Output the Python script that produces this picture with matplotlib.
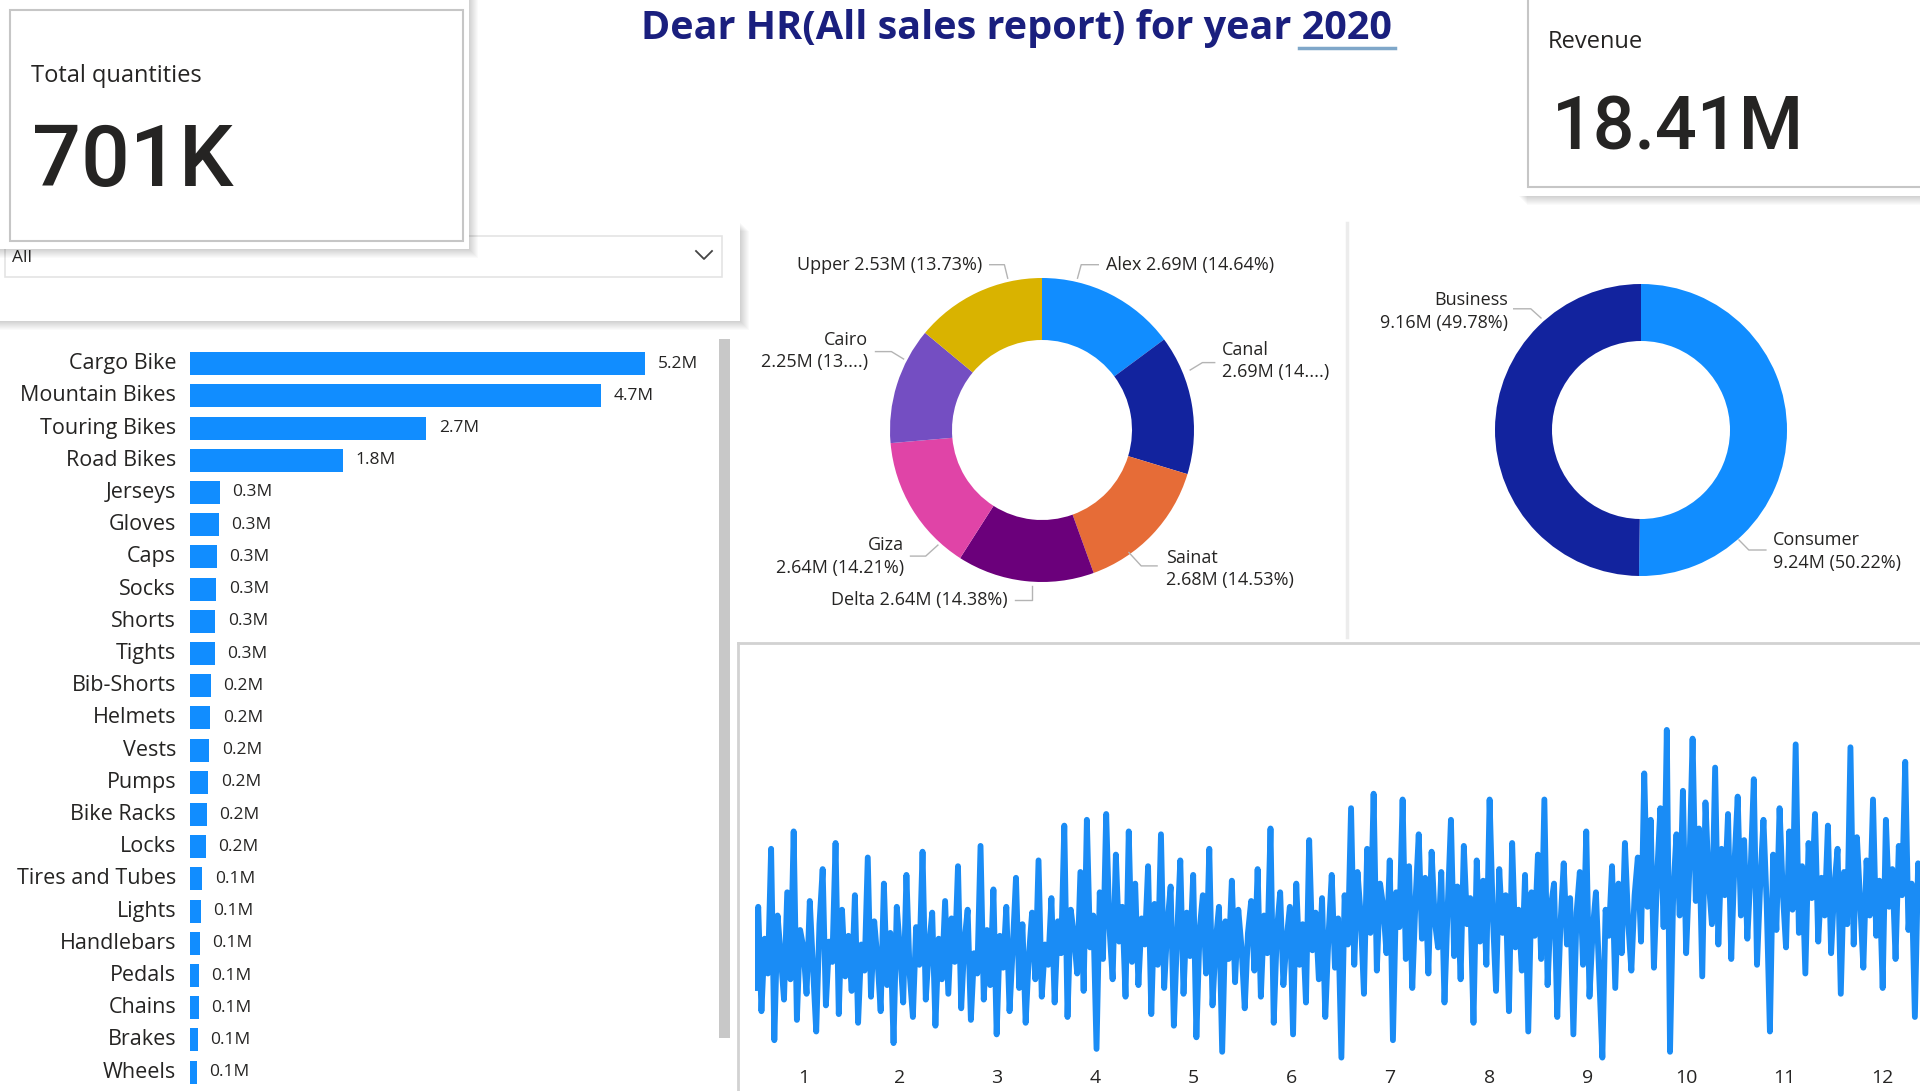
import matplotlib
matplotlib.use("Agg")
import matplotlib.pyplot as plt
import matplotlib.transforms as mtransforms
from matplotlib.patches import Rectangle
import numpy as np

# ---- data ----
title = "Dear HR(All sales report) for year 2020"
total_qty = "701K"
revenue = "18.41M"

products = ["Cargo Bike", "Mountain Bikes", "Touring Bikes", "Road Bikes", "Jerseys", "Gloves",
            "Caps", "Socks", "Shorts", "Tights", "Bib-Shorts", "Helmets", "Vests", "Pumps",
            "Bike Racks", "Locks", "Tires and Tubes", "Lights", "Handlebars", "Pedals",
            "Chains", "Brakes", "Wheels"]
product_sales = [5.2, 4.7, 2.7, 1.75, 0.34, 0.33, 0.31, 0.30, 0.29, 0.28, 0.24, 0.23, 0.22,
                 0.21, 0.19, 0.18, 0.14, 0.12, 0.11, 0.10, 0.10, 0.09, 0.08]

regions = ["Alex", "Canal", "Sainat", "Delta", "Giza", "Cairo", "Upper"]
region_sales = [2.69, 2.69, 2.68, 2.64, 2.64, 2.25, 2.53]
region_pct = ["14.64%", "14....", "14.53%", "14.38%", "14.21%", "13....", "13.73%"]
region_colors = ["#118DFF", "#12239E", "#E66C37", "#6B007B", "#E044A7", "#744EC2", "#D9B300"]

segments = ["Consumer", "Business"]
segment_sales = [9.24, 9.16]
segment_pct = ["50.22%", "49.78%"]
segment_colors = ["#118DFF", "#12239E"]

month_days = [31, 29, 31, 30, 31, 30, 31, 31, 30, 31, 30, 31]
daily_sales = (
    [30, 58, 22, 47, 35, 78, 12, 55, 41, 26, 63, 33, 84, 19, 50, 44, 28, 60, 37, 15,
     52, 71, 24, 46, 39, 80, 21, 57, 34, 48, 29] +
    [62, 18, 45, 36, 75, 27, 53, 40, 22, 66, 31, 49, 11, 58, 43, 25, 69, 35, 20, 51,
     38, 77, 26, 44, 56, 17, 47, 33, 60] +
    [28, 54, 39, 72, 23, 46, 57, 19, 42, 35, 79, 26, 50, 31, 64, 14, 48, 37, 58, 22,
     44, 68, 30, 52, 18, 41, 56, 33, 74, 27, 45] +
    [38, 61, 25, 53, 42, 86, 20, 57, 48, 35, 70, 29, 88, 44, 55, 9, 63, 40, 90, 51,
     33, 76, 46, 58, 27, 84, 39, 66, 31, 54] +
    [45, 72, 21, 59, 38, 83, 30, 52, 65, 17, 48, 74, 28, 56, 41, 69, 13, 50, 62, 35,
     78, 24, 46, 58, 8, 53, 40, 67, 32, 57, 44] +
    [23, 49, 60, 36, 71, 27, 55, 42, 85, 18, 50, 63, 31, 47, 58, 14, 66, 38, 52, 25,
     81, 43, 56, 33, 61, 20, 48, 69, 37, 54] +
    [6, 62, 45, 92, 38, 70, 55, 28, 78, 49, 97, 36, 66, 58, 42, 74, 12, 63, 51, 95,
     40, 72, 30, 60, 83, 47, 68, 35, 77, 53, 44] +
    [70, 25, 58, 88, 41, 65, 33, 79, 52, 61, 18, 74, 46, 67, 38, 95, 55, 29, 71, 49,
     62, 22, 80, 44, 57, 36, 69, 15, 63, 48, 76] +
    [40, 95, 31, 58, 66, 20, 52, 73, 45, 61, 14, 56, 70, 38, 84, 27, 50, 63, 35, 6,
     57, 48, 72, 30, 66, 42, 80, 53, 36, 62] +
    [75, 46, 104, 58, 88, 37, 69, 92, 51, 119, 8, 63, 83, 55, 98, 42, 71, 116, 60, 85,
     34, 94, 67, 52, 106, 45, 78, 62, 90, 40, 73] +
    [96, 55, 81, 47, 70, 102, 38, 66, 88, 59, 15, 76, 50, 92, 63, 44, 84, 57, 114, 49,
     72, 35, 80, 61, 90, 46, 68, 55, 86, 42] +
    [65, 78, 28, 70, 52, 113, 45, 82, 60, 37, 74, 55, 95, 48, 67, 30, 88, 58, 71, 40,
     79, 62, 108, 50, 66, 20, 73, 57, 84, 44, 63]
)

# ---- setup ----
plt.rcParams['font.family'] = ['Open Sans', 'DejaVu Sans']
TXT = "#252423"
W, H = 1920, 1091
fig = plt.figure(figsize=(19.2, 10.91), dpi=100)
fig.patch.set_facecolor("white")


def box(x0, y0, x1, y1):
    # pixel box -> figure fraction rect
    return [x0 / W, 1 - y1 / H, (x1 - x0) / W, (y1 - y0) / H]


bg = fig.add_axes([0, 0, 1, 1])
bg.set_xlim(0, W)
bg.set_ylim(H, 0)
bg.axis("off")


def card(x0, y0, x1, y1, z):
    for k in range(1, 10):
        bg.add_patch(Rectangle((x0 + k, y0 + k), x1 - x0, y1 - y0,
                               facecolor="black", alpha=0.018, lw=0, zorder=z))
    bg.add_patch(Rectangle((x0, y0), x1 - x0, y1 - y0, facecolor="white", lw=0, zorder=z + 0.1))


# slicer panel
card(-10, 222, 740, 321, 1)
bg.add_patch(Rectangle((5, 236), 717, 41, facecolor="white", edgecolor="#e4e4e4", lw=1.2, zorder=1.5))
bg.text(12, 258, "All", fontsize=12.5, color=TXT, va="center", zorder=2)
bg.plot([696, 704, 712], [251, 259, 251], color="#444444", lw=1.3, zorder=2)

# total quantities card
card(-10, -10, 469, 249, 3)
bg.add_patch(Rectangle((10, 10), 453, 231, facecolor="none", edgecolor="#c6c6c6", lw=1.5, zorder=3.5))
bg.text(31, 76, "Total quantities", fontsize=17, color=TXT, va="center", zorder=4)
bg.text(32, 186, total_qty, fontsize=62, family="Roboto", fontweight="medium",
        color=TXT, va="baseline", zorder=4)

# revenue card
card(1518, -10, 1940, 196, 3)
bg.add_patch(Rectangle((1528, -5), 420, 192, facecolor="none", edgecolor="#c6c6c6", lw=1.5, zorder=3.5))
bg.text(1548, 42, "Revenue", fontsize=17, color=TXT, va="center", zorder=4)
bg.text(1552, 149, revenue, fontsize=53, family="Roboto", fontweight="medium",
        color=TXT, va="baseline", zorder=4)

# title
bg.text(1016, 29, title, fontsize=28.5, fontweight="bold", color="#1a1f7e",
        ha="center", va="center", zorder=4)
bg.plot([1299, 1395], [48, 48], color="#7fa7c9", lw=2.5, zorder=4)

# panel separators
bg.plot([1347, 1347], [223, 637], color="#ececec", lw=2.5, zorder=1)
bg.plot([738, 1930], [643, 643], color="#d2d2d2", lw=2, zorder=1)
bg.plot([738, 738], [643, 1100], color="#d2d2d2", lw=2, zorder=1)

# scrollbar of bar chart
bg.add_patch(Rectangle((719, 339), 11, 699, facecolor="#c8c8c8", lw=0, zorder=1))

# ---- bar chart ----
axb = fig.add_axes(box(190, 347.6, 715, 1088.2))
axb.set_facecolor("none")
ypos = np.arange(len(products))
axb.barh(ypos, product_sales, height=0.72, color="#118DFF")
axb.set_xlim(0, 6)
axb.set_ylim(len(products) - 0.5, -0.5)
axb.axis("off")
for i, (name, v) in enumerate(zip(products, product_sales)):
    axb.annotate(name, (0, i), xytext=(-10, 0), textcoords="offset points",
                 ha="right", va="center", fontsize=15.5, color=TXT)
    axb.annotate(f"{v:.1f}M", (v, i), xytext=(9, 0), textcoords="offset points",
                 ha="left", va="center", fontsize=12.5, color=TXT)


# ---- donuts ----
def donut(cx, cy, R, r_in, vals, colors, counter=False):
    half = 230
    ax = fig.add_axes(box(cx - half, cy - half, cx + half, cy + half))
    ax.axis("off")
    ax.pie(vals, radius=R, startangle=90, counterclock=counter, colors=colors,
           wedgeprops=dict(width=R - r_in, linewidth=0))
    ax.set_xlim(-half, half)
    ax.set_ylim(-half, half)
    return ax


def put_labels(ax, texts, text_xy, aligns, leaders):
    for t, (tx, ty), ha, pts in zip(texts, text_xy, aligns, leaders):
        ax.text(tx, ty, t, ha=ha, va="center", fontsize=13, color=TXT, linespacing=1.35)
        xs, ys = zip(*pts)
        ax.plot(xs, ys, color="#b4b4b4", lw=1)


ax1 = donut(1042, 430, 152, 90, region_sales, region_colors)
two_line = [False, True, True, False, True, True, False]
reg_texts = []
for n, v, p, tl in zip(regions, region_sales, region_pct, two_line):
    sep = "\n" if tl else " "
    reg_texts.append(f"{n}{sep}{v:.2f}M ({p})")
reg_xy = [(63.7, 165), (180, 69), (123.7, -139), (-34.3, -170), (-138, -126.7), (-174, 79), (-60, 165)]
reg_ha = ["left", "left", "left", "right", "right", "right", "right"]
reg_lead = [
    [(56.3, 165.3), (39.2, 165.3), (35.5, 151.8)],
    [(172.7, 67.4), (160.4, 67.4), (148.2, 60)],
    [(115.1, -135.9), (99.2, -135.9), (86.9, -122.5)],
    [(-26.9, -170.2), (-9.8, -170.2), (-9.8, -155.5)],
    [(-131.5, -126.1), (-116.3, -126.1), (-104.1, -115.1)],
    [(-166.5, 78.4), (-150.6, 78.4), (-138.4, 71)],
    [(-52.3, 165.3), (-37.6, 165.3), (-34.3, 151.8)],
]
put_labels(ax1, reg_texts, reg_xy, reg_ha, reg_lead)

ax2 = donut(1641, 430, 146, 89, segment_sales, segment_colors)
seg_texts = [f"{n}\n{v:.2f}M ({p})" for n, v, p in zip(segments, segment_sales, segment_pct)]
seg_xy = [(132.2, -121.8), (-133.5, 118.2)]
seg_ha = ["left", "right"]
seg_lead = [
    [(124.9, -120), (107.8, -120), (98, -110)],
    [(-127.3, 121.2), (-110.2, 121.2), (-100, 112)],
]
put_labels(ax2, seg_texts, seg_xy, seg_ha, seg_lead)

# ---- daily line ----
days = np.arange(1, len(daily_sales) + 1)
axl = fig.add_axes(box(755, 698, 1931, 1075))
axl.set_facecolor("none")
axl.plot(days, daily_sales, color="#1a8cf5", lw=4.2)
axl.set_xlim(1, 366)
axl.set_ylim(0, 130)
axl.axis("off")

starts = np.cumsum([0] + month_days[:-1])
mids = starts + np.array(month_days) / 2 + 0.5
trans = mtransforms.blended_transform_factory(axl.transData, bg.transData)
for m, x in enumerate(mids, start=1):
    bg.text(x, 1078, str(m), transform=trans, ha="center", va="center",
            fontsize=14, color=TXT, zorder=5)

fig.savefig("out.png", dpi=100, facecolor="white")
